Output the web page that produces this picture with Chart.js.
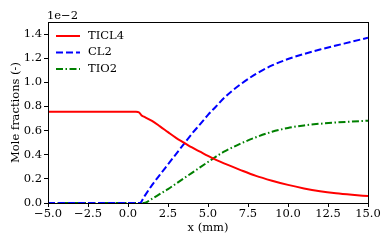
<!DOCTYPE html>
<html>
<head>
<meta charset="utf-8">
<script src="https://cdn.jsdelivr.net/npm/chart.js@4"></script>
<style>
  html, body { margin: 0; padding: 0; background: #fff; }
  #wrap { width: 392px; height: 245px; }
</style>
</head>
<body>
<div id="wrap"><canvas id="chart-canvas"></canvas></div>
<script>
// Mole fractions, values in units of 1e-2
const X_TICL4 = [-5, 0.5, 0.7, 0.85, 1.0, 1.5, 2.0, 2.5, 3.0, 3.5, 4.0, 4.5, 5.0, 5.5, 6.0, 7.0, 8.0, 9.0, 10.0, 11.0, 12.0, 13.0, 14.0, 15.0];
const Y_TICL4 = [0.757, 0.757, 0.75, 0.725, 0.715, 0.68, 0.635, 0.587, 0.54, 0.5, 0.46, 0.425, 0.39, 0.357, 0.328, 0.275, 0.225, 0.185, 0.15, 0.121, 0.098, 0.081, 0.068, 0.057];

const X_CL2 = [-5, 0.75, 1.0, 1.5, 2.0, 2.5, 3.0, 3.5, 4.0, 4.5, 5.0, 5.5, 6.0, 7.0, 8.0, 9.0, 10.0, 11.0, 12.0, 13.0, 14.0, 15.0];
const Y_CL2 = [0, 0, 0.05, 0.148, 0.235, 0.32, 0.405, 0.49, 0.575, 0.652, 0.73, 0.8, 0.87, 0.98, 1.07, 1.14, 1.193, 1.235, 1.272, 1.305, 1.337, 1.37];

const X_TIO2 = [-5, 1.0, 1.5, 2.0, 2.5, 3.0, 3.5, 4.0, 4.5, 5.0, 5.5, 6.0, 7.0, 8.0, 9.0, 10.0, 11.0, 12.0, 13.0, 14.0, 15.0];
const Y_TIO2 = [0, 0, 0.035, 0.075, 0.115, 0.16, 0.205, 0.25, 0.295, 0.34, 0.385, 0.425, 0.49, 0.545, 0.59, 0.622, 0.643, 0.657, 0.667, 0.675, 0.682];

const X_TICKS = [-5, -2.5, 0, 2.5, 5, 7.5, 10, 12.5, 15];
const Y_TICKS = [0, 0.2, 0.4, 0.6, 0.8, 1.0, 1.2, 1.4];

const FONT = '"DejaVu Serif", serif';
const FSIZE = 11.5;

const SERIES = [
  { label: 'TICL4', xs: X_TICL4, ys: Y_TICL4, color: '#ff0000', dash: [] },
  { label: 'CL2', xs: X_CL2, ys: Y_CL2, color: '#0000ff', dash: [7, 3] },
  { label: 'TIO2', xs: X_TIO2, ys: Y_TIO2, color: '#008000', dash: [7, 2.5, 1.5, 2.5] },
];

const fmt = v => v.toFixed(1).replace('-', '\u2212');

/** Frame, offset text and an in-plot legend, matplotlib style. */
const decorPlugin = {
  id: 'decor',
  afterDraw(chart) {
    const { ctx, chartArea: a } = chart;
    ctx.save();
    ctx.strokeStyle = '#000';
    ctx.lineWidth = 1;
    ctx.strokeRect(a.left + 0.5, a.top + 0.5, a.right - a.left, a.bottom - a.top);

    ctx.fillStyle = '#000';
    ctx.font = FSIZE + 'px ' + FONT;
    ctx.textAlign = 'left';
    ctx.textBaseline = 'middle';
    ctx.fillText('1e\u22122', a.left - 1, a.top - 6);

    SERIES.forEach((s, i) => {
      const y = a.top + 14 + i * 16.5;
      ctx.beginPath();
      ctx.strokeStyle = s.color;
      ctx.lineWidth = 2;
      ctx.setLineDash(s.dash);
      ctx.moveTo(a.left + 8, y);
      ctx.lineTo(a.left + 32, y);
      ctx.stroke();
      ctx.setLineDash([]);
      ctx.fillText(s.label, a.left + 40, y);
    });
    ctx.restore();
  },
};

new Chart(document.getElementById('chart-canvas'), {
  type: 'scatter',
  data: {
    datasets: SERIES.map(s => ({
      label: s.label,
      data: s.xs.map((x, i) => ({ x, y: s.ys[i] })),
      showLine: true,
      borderColor: s.color,
      backgroundColor: s.color,
      borderWidth: 2,
      borderDash: s.dash,
      pointRadius: 0,
      cubicInterpolationMode: 'monotone',
    })),
  },
  options: {
    responsive: true,
    maintainAspectRatio: false,
    animation: false,
    layout: { padding: { top: 22, right: 24, left: 0, bottom: 0 } },
    plugins: { legend: { display: false }, tooltip: { enabled: false } },
    scales: {
      x: {
        type: 'linear',
        min: -5,
        max: 15,
        afterBuildTicks: s => { s.ticks = X_TICKS.map(v => ({ value: v })); },
        afterFit: s => { s.height = 42; },
        ticks: { callback: v => fmt(v), color: '#000', font: { family: FONT, size: FSIZE }, padding: 0, maxRotation: 0 },
        grid: { drawOnChartArea: false, color: '#000', tickLength: 4 },
        border: { color: '#000', width: 1 },
        title: { display: true, text: 'x (mm)', color: '#000', font: { family: FONT, size: FSIZE }, padding: { top: 0, bottom: 10 } },
      },
      y: {
        min: 0,
        max: 1.5,
        afterBuildTicks: s => { s.ticks = Y_TICKS.map(v => ({ value: v })); },
        afterFit: s => { s.width = 48; },
        ticks: { callback: v => fmt(v), color: '#000', font: { family: FONT, size: FSIZE }, padding: 2 },
        grid: { drawOnChartArea: false, color: '#000', tickLength: 4 },
        border: { color: '#000', width: 1 },
        title: { display: true, text: 'Mole fractions (-)', color: '#000', font: { family: FONT, size: FSIZE }, padding: { top: 9, bottom: 0 } },
      },
    },
  },
  plugins: [decorPlugin],
});
</script>
</body>
</html>
